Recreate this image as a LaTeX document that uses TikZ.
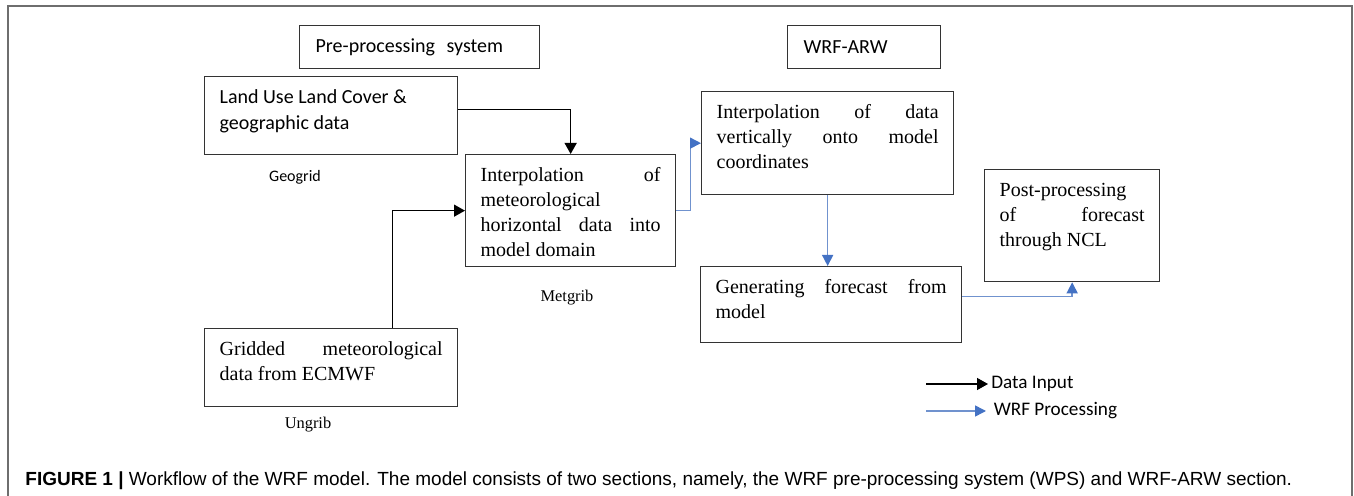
\documentclass[tikz,border=0pt]{standalone}
\usepackage{fontspec}
\setmainfont{Liberation Serif}
\setsansfont{Carlito}
\newfontfamily\capfont{Liberation Sans}
\usepackage{xcolor}
\usepackage{tikz}
\usetikzlibrary{positioning, arrows.meta, calc}
\definecolor{wrfblue}{RGB}{68,114,196}
\definecolor{wrfline}{RGB}{112,146,206}
\definecolor{framegray}{RGB}{110,110,110}
\newcommand{\boxtxt}[3]{\parbox[c][#2][t]{#1}{\rule{0pt}{13.25pt}#3}}

\begin{document}
\begin{tikzpicture}[x=0.5pt, y=-0.5pt,
  flowbox/.style={draw=black!80, line width=0.65pt, anchor=north west, inner xsep=7.5pt, inner ysep=0pt, font=\fontsize{10}{12.5}\selectfont},
  titlebox/.style={draw=black!80, line width=0.65pt, anchor=north west, inner xsep=8pt, minimum height=21.5pt, align=left, font=\sffamily\fontsize{10}{12}\selectfont},
  rmlabel/.style={inner sep=0pt, font=\fontsize{8.2}{10}\selectfont},
  sflabel/.style={inner sep=0pt, font=\sffamily\fontsize{8}{10}\selectfont},
  legtxt/.style={anchor=west, inner xsep=1.5pt, inner ysep=0pt, font=\sffamily\fontsize{9.6}{11}\selectfont},
  datain/.style={-{Triangle[length=5.5pt,width=6pt]}, line width=0.65pt, black},
  wrfproc/.style={-{Triangle[length=5.5pt,width=5.5pt,color=wrfblue]}, line width=0.75pt, wrfline}]
\useasboundingbox (0,0) rectangle (1354,496);
\draw[framegray, line width=0.6pt] (8,496) -- (8,6) -- (1352,6) -- (1352,496);

% Section titles
\node[titlebox, text width=104pt] (pre) at (299,25) {Pre-processing\hspace{2.5pt} system};
\node[titlebox, text width=60.5pt] (arw) at (787,25) {WRF-ARW};

% WPS boxes
\node[flowbox, font=\sffamily\fontsize{10}{13}\selectfont] (landuse) at (204,76)
  {\boxtxt{111.5pt}{39pt}{Land Use Land Cover \&\\ geographic data}};
\node[flowbox] (interph) at (465,154)
  {\boxtxt{90pt}{56pt}{Interpolation\hfill of\\ meteorological\\ horizontal\hfill data\hfill into\\ model domain}};
\node[flowbox] (gridded) at (204,328)
  {\boxtxt{111.5pt}{39pt}{Gridded\hfill meteorological\\ data from ECMWF}};

% WRF-ARW boxes
\node[flowbox] (vertic) at (701,91)
  {\boxtxt{111pt}{51.5pt}{Interpolation\hfill of\hfill data\\ vertically\hfill onto\hfill model\\ coordinates}};
\node[flowbox] (gener) at (700,266)
  {\boxtxt{115.5pt}{38pt}{Generating\hfill forecast\hfill from\\ model}};
\node[flowbox] (post) at (984,169)
  {\boxtxt{72.5pt}{56pt}{Post-processing\\ of\hfill forecast\\ through NCL}};

% Step names
\node[sflabel] (geogrid) at (295,177) {Geogrid};
\node[rmlabel] (metgrib) at (567,298) {Metgrib};
\node[rmlabel] (ungrib) at (308,425) {Ungrib};

% Edges
\draw[datain] ([yshift=3pt]landuse.east) -| (interph.north);
\draw[datain] ([xshift=30.75pt]gridded.north) |- (interph.west);
\draw[wrfproc] (interph.east) -- ++(14,0) |- (vertic.west);
\draw[wrfproc] (vertic.south) -- (vertic.south |- gener.north);
\draw[wrfproc] ([yshift=4pt]gener.east) -| (post.south);

% Legend
\coordinate (legdata) at (926,384);
\coordinate (legwrf) at (926,411);
\node[legtxt] (legdatatxt) at (988,384) {Data Input};
\node[legtxt] (legwrftxt) at (986,411) {\ WRF Processing};
\draw[datain] (legdata) -- (legdatatxt.west);
\draw[wrfproc] (legwrf) -- (legwrftxt.west);

% Caption
\node[anchor=west, inner sep=0pt, font=\capfont\fontsize{9.5}{11}\selectfont] (caption) at (25,481)
  {\textbf{FIGURE 1 |} Workflow of the WRF model. The model consists of two sections, namely, the WRF pre-processing system (WPS) and WRF-ARW section.};
\end{tikzpicture}
\end{document}
